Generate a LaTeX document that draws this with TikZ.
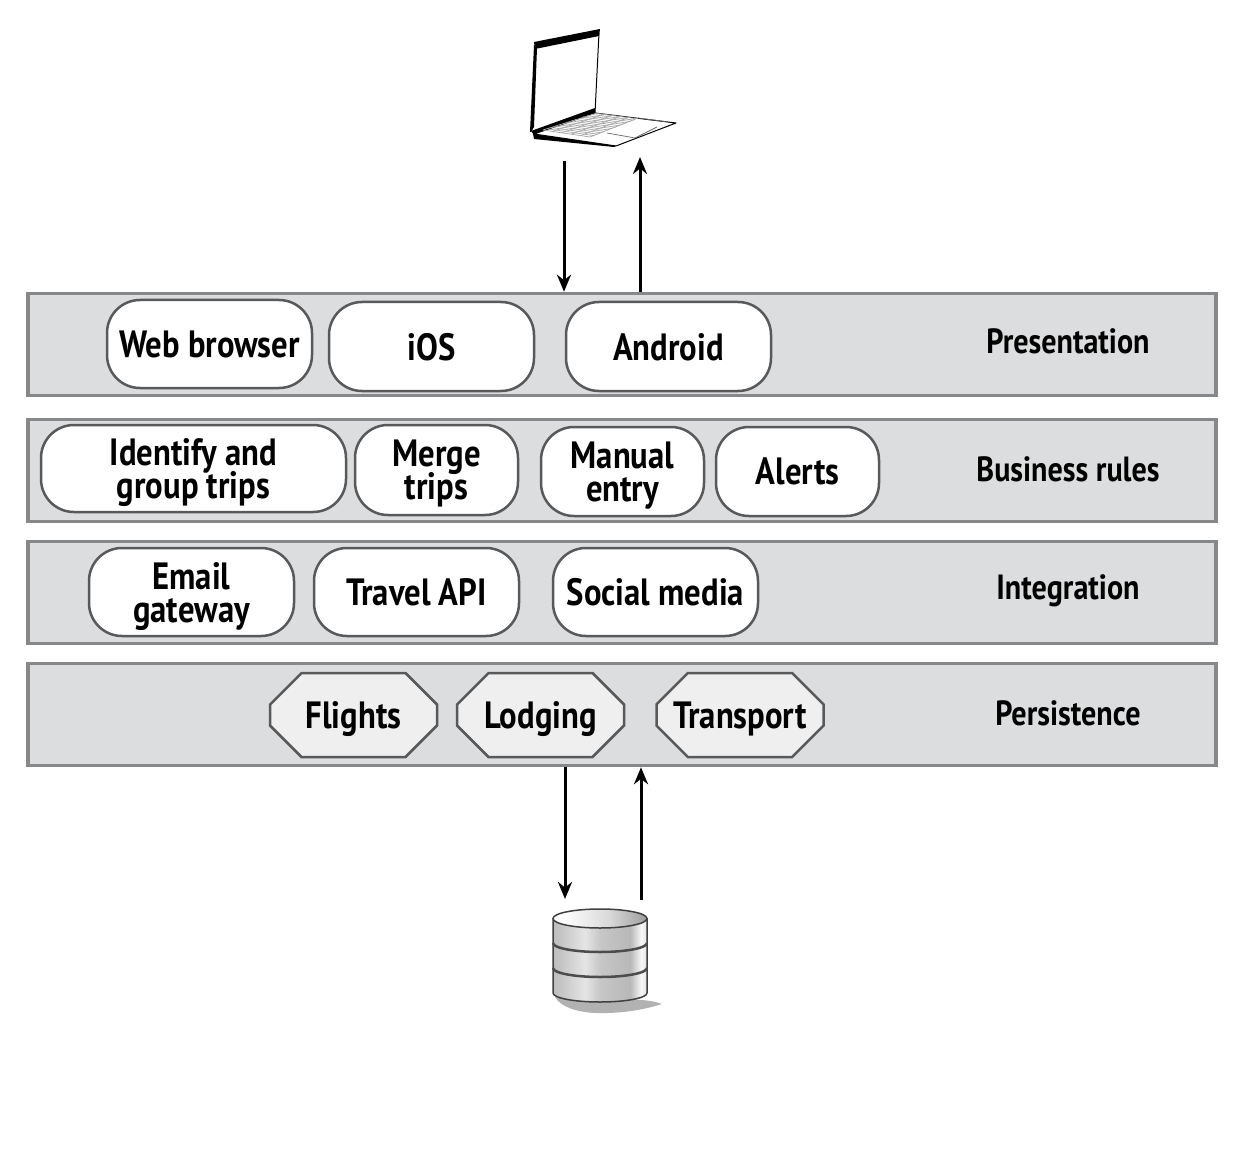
\documentclass[tikz,border=0pt]{standalone}
\usepackage{fontspec}
\setmainfont[FakeStretch=0.86]{PT Sans}
\usetikzlibrary{arrows.meta,shapes.misc}

\definecolor{layerfill}{HTML}{DCDDDE}
\definecolor{layerline}{HTML}{87888A}
\definecolor{boxline}{HTML}{58595B}
\definecolor{storefill}{HTML}{EFEFF0}

\lineskiplimit=-50pt
\normallineskiplimit=-50pt

\pgfdeclarehorizontalshading{dbside}{100bp}{color(0bp)=(black!45); color(30bp)=(black!22); color(42bp)=(black!10);
  color(50bp)=(black!22); color(66bp)=(black!28); color(72bp)=(black!3); color(80bp)=(black!25); color(92bp)=(black!35); color(100bp)=(black!60)}
\pgfdeclarehorizontalshading{dbtop}{100bp}{color(0bp)=(black!25); color(30bp)=(white); color(55bp)=(black!15); color(85bp)=(black!50); color(100bp)=(black!60)}

\tikzset{
  layerbox/.style={draw=layerline, fill=layerfill, line width=3.5pt, minimum width=1188pt, minimum height=102pt, inner sep=0pt},
  tierlabel/.style={font=\fontsize{35}{35}\selectfont\bfseries, inner sep=0pt},
  appbox/.style={draw=boxline, fill=white, line width=2.5pt, rounded corners=33pt, inner sep=0pt, align=center, text depth=0pt,
    font=\fontsize{38}{33}\selectfont\bfseries},
  storebox/.style={draw=boxline, fill=storefill, line width=2.5pt, chamfered rectangle, chamfered rectangle xsep=30pt,
    chamfered rectangle ysep=18pt, inner sep=0pt, text depth=0pt, font=\fontsize{38}{33}\selectfont\bfseries},
  flow/.style={line width=3pt, -{Stealth[length=17pt,width=14pt]}}
}

\begin{document}
\begin{tikzpicture}[x=1pt, y=-1pt]
\useasboundingbox (0,0) rectangle (1244,1155);

% layers
\node[layerbox] (present) at (622,344.5) {};
\node[layerbox] (rules) at (622,470.5) {};
\node[layerbox] (integ) at (622,592.5) {};
\node[layerbox] (persist) at (622,714.5) {};

% layer names
\node[tierlabel] (presentname) at (1068,341) {Presentation};
\node[tierlabel] (rulesname) at (1068,469) {Business rules};
\node[tierlabel] (integname) at (1068,591) {Integration};
\node[tierlabel] (persistname) at (1068,713) {Persistence};

% presentation
\node[appbox, minimum width=205pt, minimum height=88pt] (web) at (209.5,344) {Web browser};
\node[appbox, minimum width=205pt, minimum height=89pt] (ios) at (431.5,346.5) {iOS};
\node[appbox, minimum width=205pt, minimum height=89pt] (android) at (668.5,346.5) {Android};

% business rules
\node[appbox, minimum width=305pt, minimum height=87pt] (identify) at (193.5,468.5) {Identify and\\group trips};
\node[appbox, minimum width=163pt, minimum height=90pt] (merge) at (436.5,470) {Merge\\trips};
\node[appbox, minimum width=163pt, minimum height=89pt] (manual) at (622.5,471.5) {Manual\\entry};
\node[appbox, minimum width=163pt, minimum height=89pt] (alerts) at (797.5,471.5) {Alerts};

% integration
\node[appbox, minimum width=205pt, minimum height=88pt] (email) at (191.5,592) {Email\\gateway};
\node[appbox, minimum width=205pt, minimum height=88pt] (travel) at (416.5,592) {Travel API};
\node[appbox, minimum width=205pt, minimum height=88pt] (social) at (655.5,592) {Social media};

% persistence
\node[storebox, minimum width=167pt, minimum height=84pt] (flights) at (353.5,715) {Flights};
\node[storebox, minimum width=167pt, minimum height=84pt] (lodging) at (540.5,715) {Lodging};
\node[storebox, minimum width=167pt, minimum height=84pt] (transport) at (740,715) {Transport};

% laptop
\fill[black] (534,42) -- (600,29) -- (599,36) -- (535,49) -- cycle;
\draw[line width=1pt] (599,33) -- (595,113);
\fill[black] (534,45) -- (537,48) -- (534,127) -- (531,132) -- (530,132) -- cycle;
\fill[black] (531,131) -- (595,108) -- (595,113) -- (534,135) -- cycle;
\draw[line width=1pt, fill=white, line join=round] (534,134) -- (595,113) -- (676,123) -- (616,146) -- cycle;
\fill[black] (533,134) -- (616,146) -- (614,147) -- (534,139) -- cycle;
% keys
\foreach \k in {0,...,5}
  \draw[black!35, line width=.7pt] ({543+\k*9.4},{130+\k*1.4}) -- ({597+\k*8.2},{113+\k*1});
\foreach \k in {0,...,13}
  \draw[black!35, line width=.7pt] ({543+\k*4},{130-\k*1.3}) -- ({590+\k*3.7},{137-\k*1.4});
% trackpad
\draw[black!60, line width=.7pt] (607,133) -- (635,138) -- (657,127);
\draw[black!60, line width=.7pt] (638,118) -- (668,122);
\coordinate (lapout) at (564,161);
\coordinate (lapin) at (640,157);

% database
\fill[black!30] (555,997) .. controls (590,1003) and (640,995) .. (662,1004) .. controls (650,1008) and (625,1014) .. (595,1013) .. controls (575,1012) and (560,1006) .. (555,997) -- cycle;
\shade[shading=dbside, draw=black!75, line width=1.5pt]
  (553,919) -- (553,993) arc[start angle=180, end angle=360, x radius=47pt, y radius=9pt] -- (647,919) -- cycle;
\shade[shading=dbtop, draw=black!75, line width=1.5pt] (600,918.5) ellipse[x radius=47pt, y radius=9.5pt];
\draw[black!70, line width=2.5pt] (553,943) arc[start angle=180, end angle=360, x radius=47pt, y radius=9pt];
\draw[black!70, line width=2.5pt] (553,968) arc[start angle=180, end angle=360, x radius=47pt, y radius=9pt];
\coordinate (dbin) at (565,899);
\coordinate (dbout) at (641,900);

% arrows
\draw[flow] (lapout) -- (lapout |- present.north);
\draw[flow] (lapin |- present.north) -- (lapin);
\draw[flow] (dbin |- persist.south) -- (dbin);
\draw[flow] (dbout) -- (dbout |- persist.south);

\end{tikzpicture}
\end{document}
